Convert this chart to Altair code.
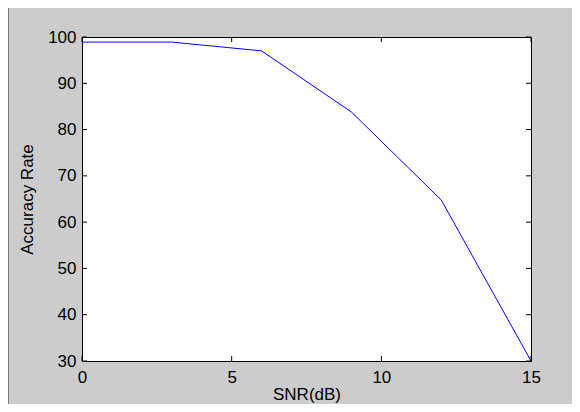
import altair as alt
import pandas as pd

snr = [0, 3, 6, 9, 12, 15]
accuracy = [98.9, 98.9, 97.0, 83.8, 64.8, 30.0]
x_ticks = [0, 5, 10, 15]
y_ticks = [30, 40, 50, 60, 70, 80, 90, 100]

df = pd.DataFrame({"snr": snr, "acc": accuracy})
xt = pd.DataFrame({"snr": x_ticks})
yt = pd.DataFrame({"acc": y_ticks})

W, H = 449, 324
PL, PT = 74, 29
TOTW, TOTH = 564, 396
FONT = "Liberation Sans"
FS = 17
TL = 5

xscale = alt.Scale(domain=[0, 15], nice=False, zero=False)
yscale = alt.Scale(domain=[30, 100], nice=False, zero=False)
xaxis = alt.Axis(values=x_ticks, title="SNR(dB)", ticks=False, domain=False,
                 grid=False, labelPadding=8, titlePadding=1, labelFlush=False)
yaxis = alt.Axis(values=y_ticks, title="Accuracy Rate", ticks=False, domain=False,
                 grid=False, labelPadding=6, titlePadding=11, labelFlush=False)

line = alt.Chart(df).mark_line(color="#0000ff", strokeWidth=1).encode(
    x=alt.X("snr:Q", scale=xscale, axis=xaxis),
    y=alt.Y("acc:Q", scale=yscale, axis=yaxis),
)

xt_bottom = alt.Chart(xt).mark_rule(color="black", strokeWidth=1).encode(
    x=alt.X("snr:Q", scale=xscale, axis=xaxis),
    y=alt.value(H), y2=alt.value(H - TL),
)
xt_top = alt.Chart(xt).mark_rule(color="black", strokeWidth=1).encode(
    x=alt.X("snr:Q", scale=xscale, axis=xaxis),
    y=alt.value(0), y2=alt.value(TL),
)
yt_left = alt.Chart(yt).mark_rule(color="black", strokeWidth=1).encode(
    y=alt.Y("acc:Q", scale=yscale, axis=yaxis),
    x=alt.value(0), x2=alt.value(TL),
)
yt_right = alt.Chart(yt).mark_rule(color="black", strokeWidth=1).encode(
    y=alt.Y("acc:Q", scale=yscale, axis=yaxis),
    x=alt.value(W), x2=alt.value(W - TL),
)
edge = alt.Chart(xt).mark_rule(color="#7a7a86", strokeWidth=1, clip=False).encode(
    x=alt.value(-PL + 0.5), y=alt.value(-PT), y2=alt.value(TOTH - PT),
)

chart = alt.layer(line, xt_bottom, xt_top, yt_left, yt_right, edge).properties(
    width=W, height=H,
    autosize=alt.AutoSizeParams(type="none"),
    padding={"left": PL, "top": PT, "right": TOTW - PL - W, "bottom": TOTH - PT - H},
    background="#cccccc",
).configure_view(
    stroke="black", strokeWidth=1, fill="white",
).configure_axis(
    labelFont=FONT, labelFontSize=FS, labelColor="black",
    titleFont=FONT, titleFontSize=FS, titleColor="black", titleFontWeight="normal",
)

chart.save("out.html", embed_options={"renderer": "svg", "actions": False})
